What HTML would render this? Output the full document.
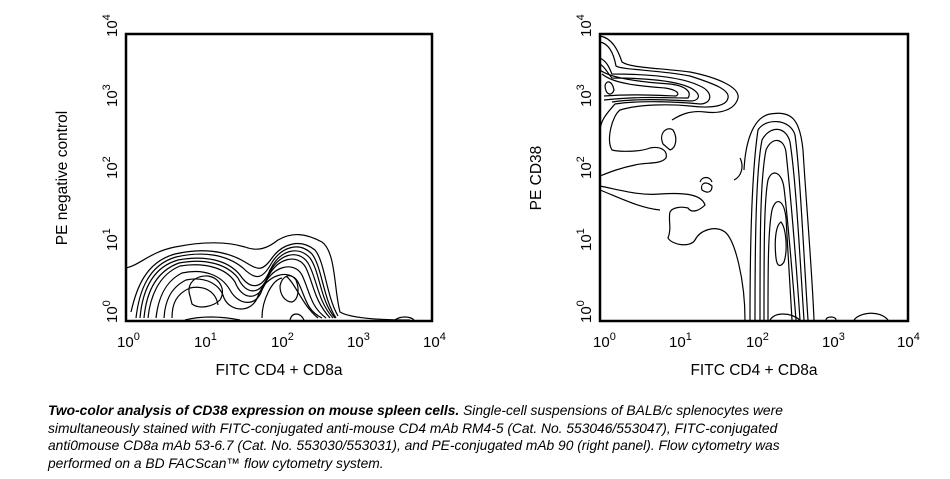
<!DOCTYPE html>
<html><head><style>
body{margin:0;background:#fff;width:950px;height:479px;overflow:hidden;font-family:"Liberation Sans",Arial,sans-serif;}
.cap{position:absolute;left:48px;top:402px;width:756px;font-size:13.8px;line-height:17.5px;font-style:italic;color:#000;}
</style></head><body>
<svg width="950" height="400" style="position:absolute;left:0;top:0" font-family="Liberation Sans, Arial, sans-serif">
<g fill="none" stroke="#000" stroke-width="1.2">
<path d="M126,268 C140,265 150,252 175,247 C200,242 225,241 245,247 C258,252 268,248 278,240 C292,232 305,233 322,242 C336,252 334,290 340,312 C350,318 380,320 410,320"/>
<path d="M131,312 C136,290 145,262 175,254 C200,248 225,250 245,262 C258,270 262,272 272,258 C282,244 300,238 315,250 C325,262 326,295 338,316"/>
<path d="M136,318 C139,292 148,265 176,257 C202,251 226,254 243,268 C255,280 262,280 271,264 C281,247 299,241 312,254 C322,267 323,298 336,318"/>
<path d="M140,318 C142,295 150,268 178,260 C205,255 228,260 240,275 C250,290 262,290 270,270 C280,250 298,245 310,258 C320,272 320,300 335,318"/>
<path d="M144,318 C146,296 154,272 179,263 C205,258 227,264 238,278 C246,295 260,296 268,276 C277,254 298,248 308,263 C317,278 317,300 333,318"/>
<path d="M148,318 C150,298 158,275 180,266 C205,262 226,268 235,282 C242,300 258,302 266,282 C274,258 298,252 306,268 C314,285 314,300 330,318"/>
<path d="M156,318 C158,300 164,282 182,273 C205,268 222,276 230,290 C238,305 256,308 262,290 C270,266 294,260 302,275 C310,292 310,306 326,318"/>
<path d="M164,318 C165,302 170,288 186,280 C205,276 220,284 224,298 C230,312 252,314 258,296 C266,274 290,268 298,282 C306,298 306,310 322,318"/>
<path d="M172,318 C172,304 176,294 190,288 C205,285 216,292 218,305 M286,276 C296,284 302,305 318,318 M262,318 C262,300 272,280 282,278"/>
<path d="M190,296 C186,284 195,275 208,276 C220,278 226,290 220,300 C214,306 200,310 192,304 Z"/>
<path d="M280,286 C282,276 290,272 296,280 C300,290 298,300 292,302 C286,302 280,296 280,286 Z"/>
<path d="M185,320 C200,316 220,316 240,320 M290,320 C292,312 300,312 304,320"/>
<path d="M395,320 C400,316 410,316 414,320"/>
<path d="M600,36 C612,38 618,50 622,62 C630,68 660,68 690,72 C720,78 740,88 738,98 C735,110 720,114 705,112 C690,110 680,115 672,120"/>
<path d="M600,42 C610,44 614,55 616,66 C622,70 660,70 690,76 C715,84 730,90 728,98 C726,108 705,108 690,106 C670,104 640,104 620,110 C612,116 606,140 612,150 C620,152 640,152 650,148 C660,146 668,150 666,158 C660,165 645,162 635,165 C620,168 610,172 600,176"/>
<path d="M600,58 C608,62 610,70 612,74 C640,74 680,76 700,86 C714,92 712,104 700,104 C680,102 640,100 615,104 C608,112 600,120 600,132"/>
<path d="M600,64 C606,68 608,74 612,78 C640,78 680,80 694,90 C702,96 698,101 690,101 C670,100 640,98 612,102"/>
<path d="M600,70 C610,78 640,82 670,84 C686,86 692,92 688,98 C670,98 640,96 604,100"/>
<path d="M602,74 C614,84 640,86 665,88 C678,90 680,94 676,96 C650,95 630,94 604,96"/>
<path d="M605,86 C606,80 612,80 614,90 C612,96 606,96 605,86 Z"/>
<path d="M600,186 C620,190 640,196 660,194 C690,192 702,196 705,205 C700,210 692,214 688,208 C680,206 672,208 670,212 C668,220 672,228 668,238 C672,245 690,248 695,240 C700,230 715,225 725,232 C735,240 745,280 745,320"/>
<path d="M600,190 C620,198 640,208 660,210 M734,180 C742,176 744,166 740,158 M712,186 C705,180 700,184 702,190 C708,194 712,192 712,186 Z"/>
<path d="M744,170 C745,150 750,118 770,114 C792,110 800,120 803,150 C806,200 812,270 814,320"/>
<path d="M750,320 C750,240 752,170 758,130 C765,118 790,118 795,135 C800,170 804,260 808,320"/>
<path d="M755,320 C755,240 756,170 762,140 C770,125 786,126 790,142 C796,180 800,260 804,320"/>
<path d="M760,320 C760,240 760,180 766,150 C772,136 784,138 786,152 C790,190 796,260 800,320"/>
<path d="M764,320 C764,250 764,200 768,180 C772,168 782,172 784,188 C788,220 792,270 796,320"/>
<path d="M768,320 C768,270 768,230 772,210 C776,196 784,200 786,218 C788,250 790,290 792,320"/>
<path d="M776,258 C774,240 776,225 781,222 C786,228 788,250 784,262 C780,268 777,266 776,258 Z"/>
<path d="M770,320 C775,312 790,312 800,320 M826,320 C826,316 836,316 836,320 M854,320 C860,312 880,310 888,320"/>
<path d="M700,182 C702,176 710,176 712,182"/>
<path d="M663,144 C658,132 668,126 673,130 C678,138 676,148 670,150 Z"/>
</g>
<rect x="126" y="34" width="306" height="287" fill="none" stroke="#000" stroke-width="2.5"/>
<rect x="600" y="34" width="308" height="287" fill="none" stroke="#000" stroke-width="2.5"/>
<g font-size="15" fill="#000">
<text x="117" y="347">10<tspan font-size="11" dy="-7">0</tspan></text>
<text x="194" y="347">10<tspan font-size="11" dy="-7">1</tspan></text>
<text x="271" y="347">10<tspan font-size="11" dy="-7">2</tspan></text>
<text x="347" y="347">10<tspan font-size="11" dy="-7">3</tspan></text>
<text x="423" y="347">10<tspan font-size="11" dy="-7">4</tspan></text>
<text x="593" y="347">10<tspan font-size="11" dy="-7">0</tspan></text>
<text x="669" y="347">10<tspan font-size="11" dy="-7">1</tspan></text>
<text x="746" y="347">10<tspan font-size="11" dy="-7">2</tspan></text>
<text x="822" y="347">10<tspan font-size="11" dy="-7">3</tspan></text>
<text x="897" y="347">10<tspan font-size="11" dy="-7">4</tspan></text>
<g transform="translate(117,323) rotate(-90)"><text>10<tspan font-size="11" dy="-7">0</tspan></text></g>
<g transform="translate(117,251) rotate(-90)"><text>10<tspan font-size="11" dy="-7">1</tspan></text></g>
<g transform="translate(117,179) rotate(-90)"><text>10<tspan font-size="11" dy="-7">2</tspan></text></g>
<g transform="translate(117,107) rotate(-90)"><text>10<tspan font-size="11" dy="-7">3</tspan></text></g>
<g transform="translate(117,37) rotate(-90)"><text>10<tspan font-size="11" dy="-7">4</tspan></text></g>
<g transform="translate(591,323) rotate(-90)"><text>10<tspan font-size="11" dy="-7">0</tspan></text></g>
<g transform="translate(591,251) rotate(-90)"><text>10<tspan font-size="11" dy="-7">1</tspan></text></g>
<g transform="translate(591,179) rotate(-90)"><text>10<tspan font-size="11" dy="-7">2</tspan></text></g>
<g transform="translate(591,107) rotate(-90)"><text>10<tspan font-size="11" dy="-7">3</tspan></text></g>
<g transform="translate(591,37) rotate(-90)"><text>10<tspan font-size="11" dy="-7">4</tspan></text></g>
</g>
<g font-size="15.5" fill="#000">
<text x="279" y="375" text-anchor="middle">FITC CD4 + CD8a</text>
<text x="754" y="375" text-anchor="middle">FITC CD4 + CD8a</text>
<g transform="translate(67,178) rotate(-90)"><text text-anchor="middle">PE negative control</text></g>
<g transform="translate(541,178) rotate(-90)"><text text-anchor="middle">PE CD38</text></g>
</g>
</svg>
<div class="cap"><b>Two-color analysis of CD38 expression on mouse spleen cells.</b> Single-cell suspensions of BALB/c splenocytes were simultaneously stained with FITC-conjugated anti-mouse CD4 mAb RM4-5 (Cat. No. 553046/553047), FITC-conjugated anti0mouse CD8a mAb 53-6.7 (Cat. No. 553030/553031), and PE-conjugated mAb 90 (right panel). Flow cytometry was performed on a BD FACScan™ flow cytometry system.</div>
</body></html>
